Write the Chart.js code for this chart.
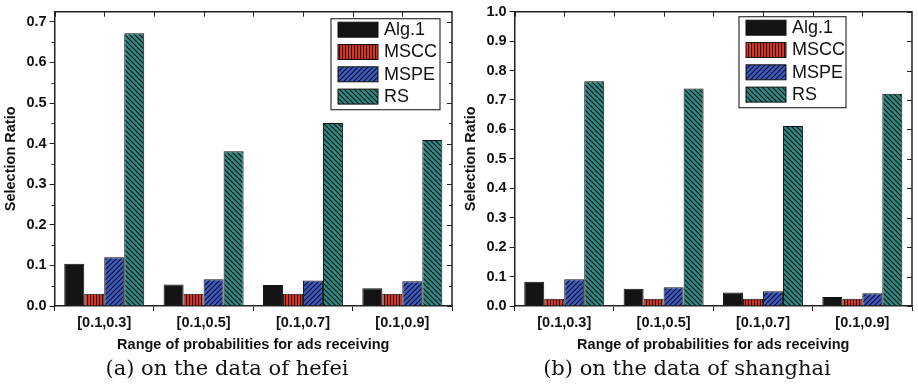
<!DOCTYPE html>
<html>
<head>
<meta charset="utf-8">
<script src="https://cdn.jsdelivr.net/npm/chart.js@4.4.1/dist/chart.umd.min.js"></script>
<style>
  body { margin: 0; background: #fff; }
  #wrap { display: flex; width: 918px; height: 386px; }
  .panel { position: relative; height: 386px; }
</style>
</head>
<body>
<div id="wrap">
  <div class="panel" style="width:460px"><canvas id="hefeiChart"></canvas></div>
  <div class="panel" style="width:458px"><canvas id="shanghaiChart"></canvas></div>
</div>
<script>
// categories and series
const categories = ['[0.1,0.3]', '[0.1,0.5]', '[0.1,0.7]', '[0.1,0.9]'];
const seriesNames = ['Alg.1', 'MSCC', 'MSPE', 'RS'];

// (a) hefei
const hefeiAlg1 = [0.104, 0.053, 0.052, 0.044];
const hefeiMSCC = [0.030, 0.030, 0.030, 0.030];
const hefeiMSPE = [0.120, 0.066, 0.063, 0.061];
const hefeiRS   = [0.672, 0.381, 0.451, 0.409];

// (b) shanghai
const shanghaiAlg1 = [0.082, 0.059, 0.046, 0.031];
const shanghaiMSCC = [0.025, 0.025, 0.025, 0.025];
const shanghaiMSPE = [0.091, 0.064, 0.050, 0.043];
const shanghaiRS   = [0.764, 0.739, 0.612, 0.721];

// y axis tick range
const hefeiTickMax = 0.7;
const shanghaiTickMax = 1.0;

const FONT = '"Liberation Sans", Arial, sans-serif';
const INK = '#111';

function makePattern(bg, kind) {
    const c = document.createElement('canvas');
    const n = kind == 'vert' ? 3 : 5;
    c.width = n; c.height = n;
    const g = c.getContext('2d');
    g.fillStyle = bg;
    g.fillRect(0, 0, n, n);
    g.strokeStyle = '#111';
    g.lineWidth = 1.1;
    g.beginPath();
    if (kind == 'vert') {
        g.moveTo(0.5, 0); g.lineTo(0.5, n);
    } else if (kind == 'fwd') {
        g.moveTo(-1, n + 1); g.lineTo(n + 1, -1);
        g.moveTo(-1, 1); g.lineTo(1, -1);
        g.moveTo(n - 1, n + 1); g.lineTo(n + 1, n - 1);
    } else {
        g.moveTo(-1, -1); g.lineTo(n + 1, n + 1);
        g.moveTo(n - 1, -1); g.lineTo(n + 1, 1);
        g.moveTo(-1, n - 1); g.lineTo(1, n + 1);
    }
    g.stroke();
    return g.createPattern(c, 'repeat');
}

const fills = [
    '#141414',
    makePattern('#e8321e', 'vert'),
    makePattern('#3c5ac8', 'fwd'),
    makePattern('#2e8a84', 'back')
];

function isMajor(v) {
    const k = v * 10;
    return Math.abs(k - Math.round(k)) < 1e-6;
}

// frame, inner ticks and boxed legend
const framePlugin = {
    id: 'frame',
    afterDraw(chart, args, opts) {
        const ctx = chart.ctx;
        const a = chart.chartArea;
        const y = chart.scales.y;
        const x = chart.scales.x;
        ctx.save();
        ctx.strokeStyle = '#222';
        ctx.lineWidth = 1.5;
        ctx.beginPath();
        ctx.moveTo(a.left, a.top); ctx.lineTo(a.right, a.top); ctx.lineTo(a.right, a.bottom);
        ctx.stroke();

        ctx.lineWidth = 1;
        ctx.beginPath();
        y.ticks.forEach(t => {
            const py = Math.round(y.getPixelForValue(t.value)) + 0.5;
            const major = isMajor(t.value);
            const len = major ? 5 : 3;
            ctx.moveTo(a.right - len, py); ctx.lineTo(a.right, py);
            if (!major) { ctx.moveTo(a.left - 3, py); ctx.lineTo(a.left, py); }
        });
        const half = (x.getPixelForValue(1) - x.getPixelForValue(0)) / 2;
        categories.forEach((c, i) => {
            const cx = x.getPixelForValue(i);
            [cx - half, cx].forEach(px => {
                px = Math.round(px) + 0.5;
                ctx.moveTo(px, a.top); ctx.lineTo(px, a.top + 5);
            });
        });
        ctx.stroke();

        // legend
        const w = opts.width, h = 91;
        const lx = a.right - opts.right - w;
        const ly = a.top + opts.top;
        ctx.fillStyle = '#fff';
        ctx.fillRect(lx, ly, w, h);
        ctx.strokeStyle = '#333';
        ctx.lineWidth = 1.2;
        ctx.strokeRect(lx, ly, w, h);
        ctx.font = '18px ' + FONT;
        ctx.textBaseline = 'middle';
        chart.data.datasets.forEach((ds, i) => {
            const sy = ly + 3.5 + i * 22.3;
            ctx.fillStyle = ds.backgroundColor;
            ctx.fillRect(lx + 7, sy, 40, 15);
            ctx.strokeStyle = '#111';
            ctx.lineWidth = 1;
            ctx.strokeRect(lx + 7, sy, 40, 15);
            ctx.fillStyle = INK;
            ctx.fillText(ds.label, lx + 53, sy + 8);
        });
        ctx.restore();
    }
};

function createRatioChart(canvasId, values, tickMax, yMax, caption, legendPos, padding) {
    new Chart(document.getElementById(canvasId), {
        type: 'bar',
        data: {
            labels: categories,
            datasets: seriesNames.map((name, i) => ({
                label: name,
                data: values[i],
                backgroundColor: fills[i],
                borderColor: '#111',
                borderWidth: 1,
                borderSkipped: 'bottom'
            }))
        },
        options: {
            responsive: true,
            maintainAspectRatio: false,
            animation: false,
            layout: { padding: padding },
            categoryPercentage: 0.805,
            barPercentage: 1.0,
            plugins: {
                legend: { display: false },
                tooltip: { enabled: false },
                title: {
                    display: true,
                    position: 'bottom',
                    text: caption,
                    color: INK,
                    font: { family: '"DejaVu Serif", serif', size: 21, weight: 'normal' },
                    padding: { top: 3, bottom: 0 }
                },
                frame: legendPos
            },
            scales: {
                x: {
                    offset: true,
                    grid: {
                        offset: true, drawOnChartArea: false, drawTicks: true,
                        tickLength: 5, color: '#222', tickWidth: 1
                    },
                    border: { display: true, color: '#222', width: 1.5 },
                    ticks: { color: INK, padding: 3, font: { family: FONT, size: 14.5, weight: 'bold' } },
                    title: {
                        display: true, text: 'Range of probabilities for ads receiving', color: INK,
                        padding: { top: 2, bottom: 0 },
                        font: { family: FONT, size: 14.5, weight: 'bold' }
                    }
                },
                y: {
                    min: 0,
                    max: yMax,
                    afterBuildTicks: scale => {
                        scale.ticks = scale.ticks.filter(t => t.value <= tickMax + 1e-6);
                    },
                    ticks: {
                        stepSize: 0.05,
                        includeBounds: false,
                        color: INK,
                        padding: 3,
                        font: { family: FONT, size: 14.5, weight: 'bold' },
                        callback: v => isMajor(v) ? v.toFixed(1) : ''
                    },
                    grid: {
                        drawOnChartArea: false, drawTicks: true, tickLength: 5, tickWidth: 1,
                        tickColor: c => isMajor(c.tick.value) ? '#222' : 'rgba(0,0,0,0)'
                    },
                    border: { display: true, color: '#222', width: 1.5 },
                    title: {
                        display: true, text: 'Selection Ratio', color: INK,
                        padding: { top: 0, bottom: 4 },
                        font: { family: FONT, size: 14.5, weight: 'bold' }
                    }
                }
            }
        },
        plugins: [framePlugin]
    });
}

createRatioChart('hefeiChart', [hefeiAlg1, hefeiMSCC, hefeiMSPE, hefeiRS],
    hefeiTickMax, 0.725, '(a) on the data of hefei',
    { right: 12, top: 7, width: 109 },
    { left: 2, right: 8, top: 9, bottom: 4 });

createRatioChart('shanghaiChart', [shanghaiAlg1, shanghaiMSCC, shanghaiMSPE, shanghaiRS],
    shanghaiTickMax, 1.0, '(b) on the data of shanghai',
    { right: 66, top: 5, width: 107 },
    { left: 2, right: 6, top: 7, bottom: 4 });
</script>
</body>
</html>
